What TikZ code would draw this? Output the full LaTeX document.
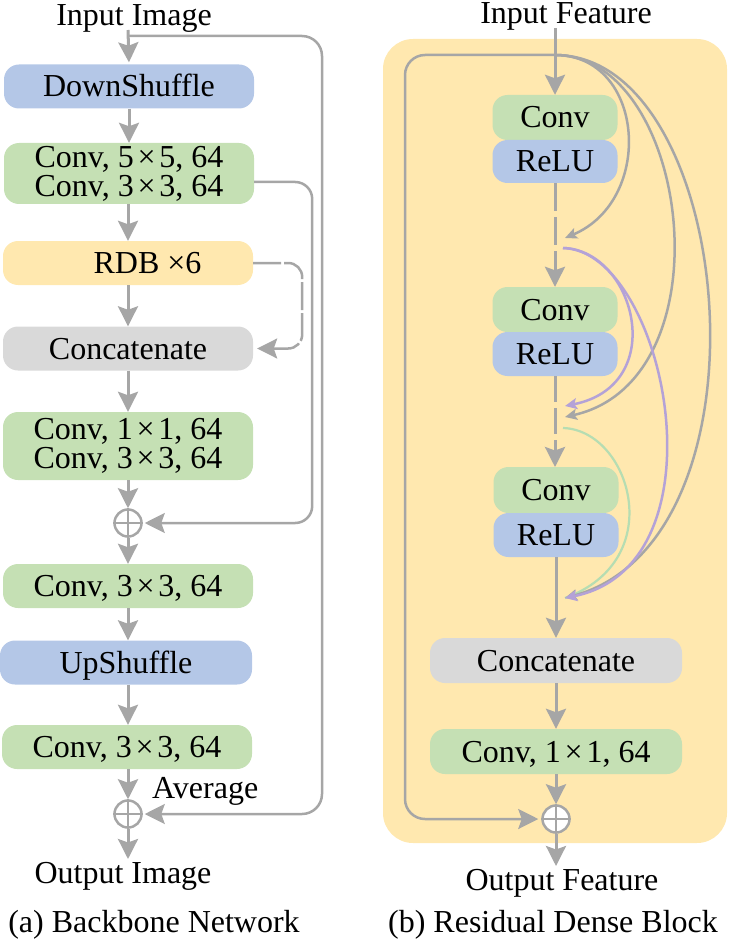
\documentclass[tikz,border=0pt]{standalone}
\usepackage{fontspec}
\setmainfont{Liberation Serif}
\usetikzlibrary{arrows.meta}
\definecolor{lg}{HTML}{A6A6A6}
\definecolor{bgreen}{HTML}{C5E0B4}
\definecolor{bblue}{HTML}{B4C7E7}
\definecolor{bgray}{HTML}{D9D9D9}
\definecolor{byel}{HTML}{FFE8AF}
\definecolor{cpurp}{HTML}{B4A2D7}
\definecolor{cgreen}{HTML}{B6DDB2}
\pgfdeclarelayer{back}
\pgfdeclarelayer{curves}
\pgfsetlayers{back,curves,main}
\begin{document}
\begin{tikzpicture}[x=1pt,y=-1pt,
  every node/.style={font=\fontsize{32}{29}\selectfont},
  box/.style={rounded corners=15pt, minimum height=44pt, inner sep=0pt,
              text height=24pt, text depth=3pt},
  boxtwo/.style={rounded corners=15pt, inner sep=0pt, align=center},
  lbl/.style={inner sep=0pt, anchor=base},
  bigtip/.style={-{Stealth[length=20pt,width=20pt,inset=3.5pt]}},
  smalltip/.style={-{Stealth[length=12pt,width=11pt,inset=2.5pt]}},
  conn/.style={draw=lg, line width=3pt, bigtip},
  skipl/.style={draw=lg, line width=2.5pt},
  plusc/.style={circle, draw=lg, line width=2.5pt, fill=white, minimum size=27pt, inner sep=0pt},
]
\useasboundingbox (0,0) rectangle (730,941);

% ---------------- (a) Backbone Network ----------------
\node[lbl] (inI) at (134,26) {Input Image};
\coordinate (inIa) at (128,30);
\coordinate (s0) at (128,36);

\node[box, fill=bblue, minimum width=250pt] (ds) at (129,86.5) {DownShuffle};
\node[boxtwo, fill=bgreen, minimum width=250pt, minimum height=61pt] (c1) at (129,173.5)
  {Conv, 5\hspace{0.12em}×\hspace{0.12em}5, 64\\Conv, 3\hspace{0.12em}×\hspace{0.12em}3, 64};
\node[box, fill=byel, minimum width=250pt] (rdb) at (128,263) {\hspace*{39pt}RDB ×6};
\node[box, fill=bgray, minimum width=250pt] (cat) at (128,348.5) {Concatenate};
\node[boxtwo, fill=bgreen, minimum width=250pt, minimum height=68pt] (c2) at (128,446)
  {Conv, 1\hspace{0.12em}×\hspace{0.12em}1, 64\\Conv, 3\hspace{0.12em}×\hspace{0.12em}3, 64};
\node[plusc] (p1) at (128,523) {};
\node[box, fill=bgreen, minimum width=250pt] (c3) at (128,586) {Conv, 3\hspace{0.12em}×\hspace{0.12em}3, 64};
\node[box, fill=bblue, minimum width=252pt] (up) at (126,662.5) {UpShuffle};
\node[box, fill=bgreen, minimum width=250pt] (c4) at (127,747) {Conv, 3\hspace{0.12em}×\hspace{0.12em}3, 64};
\node[plusc] (p2) at (128,814) {};
\node[lbl, anchor=base west] (avg) at (152,798) {Average};
\coordinate (outIa) at (128,859);
\node[lbl] (outI) at (123,883) {Output Image};
\node[lbl] (capa) at (154,932) {(a) Backbone Network};

\draw[lg, line width=2.5pt] (p1.north) -- (p1.south) (p1.west) -- (p1.east);
\draw[lg, line width=2.5pt] (p2.north) -- (p2.south) (p2.west) -- (p2.east);

\draw[conn, shorten >=2pt] (inIa) -- (ds.north);
\draw[conn] (ds.south) -- (ds.south |- c1.north);
\draw[conn] (c1.south -| rdb.north) -- (rdb.north);
\draw[conn] (rdb.south) -- (cat.north);
\draw[conn] (cat.south) -- (c2.north);
\draw[conn] (c2.south) -- (p1.north);
\draw[conn] (p1.south) -- (c3.north);
\draw[conn] (c3.south) -- (c3.south |- up.north);
\draw[conn] (c3.south |- up.south) -- (c3.south |- c4.north);
\draw[conn] (c3.south |- c4.south) -- (p2.north);
\draw[conn] (p2.south) -- (outIa);

\draw[skipl, bigtip, rounded corners=20pt, shorten >=2pt] (s0) -- ++(194,0) |- (p2.east);
\draw[skipl, bigtip, rounded corners=17pt, shorten >=2pt] ([yshift=-8.5pt]c1.east) -- ++(58,0) |- (p1.east);
\draw[skipl, bigtip, rounded corners=14pt, shorten >=4pt, dash pattern=on 28pt off 3pt] (rdb.east) -- ++(49,0) |- (cat.east);

% ---------------- (b) Residual Dense Block ----------------
\begin{pgfonlayer}{back}
\fill[byel, rounded corners=30pt] (383,39) rectangle (727,843);
\end{pgfonlayer}
\node[lbl] (inF) at (566,24) {Input Feature};
\coordinate (inFa) at (555,28);
\coordinate (j) at (555,55);

\node[box, fill=bgreen, minimum width=125pt, minimum height=45pt] (rc1) at (555,117.5) {Conv};
\node[box, fill=bblue, minimum width=125pt, minimum height=43pt] (rr1) at (555,161.5) {ReLU};
\node[box, fill=bgreen, minimum width=125pt, minimum height=45pt] (rc2) at (555,309.5) {Conv};
\node[box, fill=bblue, minimum width=125pt, minimum height=44pt] (rr2) at (555,354) {ReLU};
\node[box, fill=bgreen, minimum width=125pt, minimum height=46pt] (rc3) at (556,490) {Conv};
\node[box, fill=bblue, minimum width=125pt, minimum height=44pt] (rr3) at (556,535) {ReLU};
\node[box, fill=bgray, minimum width=252pt, minimum height=45pt] (rcat) at (556,660.5) {Concatenate};
\node[box, fill=bgreen, minimum width=252pt, minimum height=45pt] (rconv) at (556,751.5) {Conv, 1\hspace{0.12em}×\hspace{0.12em}1, 64};
\node[plusc] (rp) at (556,819) {};
\draw[lg, line width=2.5pt] (rp.north) -- (rp.south) (rp.west) -- (rp.east);
\coordinate (outFa) at (556,866);
\node[lbl] (outF) at (562,890) {Output Feature};
\node[lbl] (capb) at (553,932) {(b) Residual Dense Block};

\coordinate (t1) at (565,238);
\coordinate (q1) at (563,248);
\coordinate (t2) at (565,406);
\coordinate (t3) at (565,417);
\coordinate (q2) at (563,428);
\coordinate (t4) at (565,598);
\coordinate (r3b) at (555,467);

\draw[conn] (inFa) -- (rc1.north);
\draw[conn, dash pattern=on 28pt off 6pt] (rr1.south) -- (rc2.north);
\draw[conn, dash pattern=on 26pt off 6pt] (rr2.south) -- (r3b);
\draw[conn] (rr3.south) -- (rcat.north);
\draw[conn] (rcat.south) -- (rconv.north);
\draw[conn] (rconv.south) -- (rp.north);
\draw[conn] (rp.south) -- (outFa);

\begin{pgfonlayer}{curves}
\draw[skipl, bigtip, rounded corners=20pt, shorten >=3pt] (j) -- ++(-150,0) |- (rp.west);
\draw[cgreen, line width=2.2pt] (q2) .. controls (630,430) and (670,560) .. (t4);
\draw[lg, line width=2.5pt, smalltip] (j) .. controls (645,55) and (655,200) .. (t1);
\draw[lg, line width=2.5pt, smalltip] (j) .. controls (690,55) and (730,380) .. (t3);
\draw[lg, line width=2.5pt, smalltip] (j) .. controls (735,55) and (780,540) .. (t4);
\draw[cpurp, line width=2.5pt, smalltip] (q1) .. controls (635,250) and (670,385) .. (t2);
\draw[cpurp, line width=2.5pt, smalltip] (q1) .. controls (665,250) and (730,565) .. (t4);
\end{pgfonlayer}
\end{tikzpicture}
\end{document}
